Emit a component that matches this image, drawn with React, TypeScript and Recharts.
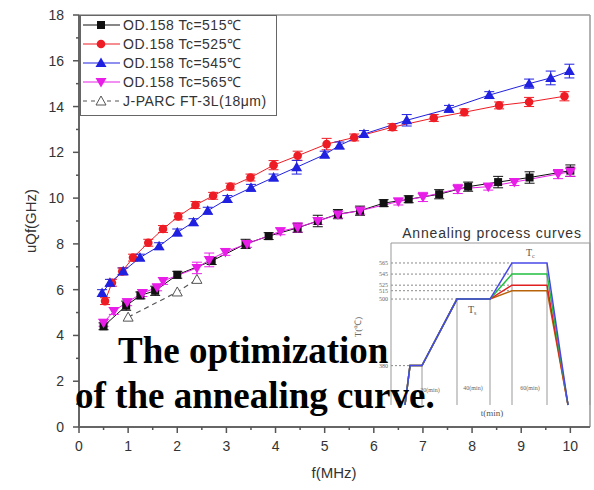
import React from 'react';
import { ComposedChart, LineChart, Line, XAxis, YAxis, ErrorBar, ReferenceLine } from 'recharts';

// main chart: uQf vs frequency
const freq515 = [0.5, 0.96, 1.25, 1.55, 2.0, 2.7, 3.39, 3.86, 4.45, 4.86, 5.27, 5.72, 6.2, 6.71, 7.33, 7.92, 8.53, 9.17, 10.0];
const uqf515 = [4.4, 5.3, 5.75, 5.95, 6.65, 7.25, 8.0, 8.34, 8.7, 9.0, 9.3, 9.45, 9.78, 9.95, 10.17, 10.5, 10.7, 10.9, 11.2];
const err515 = [0.15, 0.2, 0.15, 0.2, 0.15, 0.15, 0.2, 0.15, 0.2, 0.25, 0.2, 0.2, 0.15, 0.15, 0.2, 0.2, 0.25, 0.25, 0.25];

const freq525 = [0.53, 0.67, 0.88, 1.1, 1.41, 1.71, 2.02, 2.37, 2.73, 3.08, 3.49, 3.96, 4.45, 5.04, 5.6, 6.38, 7.22, 7.84, 8.55, 9.16, 9.88];
const uqf525 = [5.5, 6.3, 6.8, 7.4, 8.05, 8.65, 9.2, 9.7, 10.1, 10.5, 10.9, 11.44, 11.85, 12.36, 12.65, 13.1, 13.5, 13.75, 14.05, 14.2, 14.45];
const err525 = [0.15, 0.15, 0.15, 0.15, 0.15, 0.15, 0.15, 0.15, 0.15, 0.15, 0.15, 0.2, 0.2, 0.25, 0.15, 0.15, 0.15, 0.15, 0.15, 0.2, 0.2];

const freq545 = [0.47, 0.63, 0.9, 1.24, 1.63, 2.0, 2.33, 2.62, 3.02, 3.5, 3.96, 4.43, 5.0, 5.3, 5.8, 6.67, 7.53, 8.35, 9.16, 9.6, 9.98];
const uqf545 = [5.85, 6.3, 6.8, 7.4, 7.9, 8.5, 8.95, 9.45, 9.96, 10.45, 10.9, 11.35, 11.9, 12.3, 12.8, 13.4, 13.9, 14.5, 15.0, 15.25, 15.55];
const err545 = [0.15, 0.15, 0.15, 0.15, 0.15, 0.15, 0.15, 0.15, 0.15, 0.15, 0.15, 0.3, 0.15, 0.15, 0.15, 0.25, 0.15, 0.15, 0.2, 0.3, 0.3];

const freq565 = [0.5, 0.71, 0.98, 1.29, 1.59, 1.71, 2.4, 2.65, 2.98, 3.42, 4.1, 4.45, 4.86, 5.27, 5.72, 6.5, 7.0, 7.71, 8.33, 8.86, 9.75, 10.0];
const uqf565 = [4.55, 5.07, 5.45, 5.85, 6.1, 6.38, 6.95, 7.3, 7.65, 8.0, 8.55, 8.72, 9.0, 9.28, 9.45, 9.85, 10.05, 10.4, 10.5, 10.7, 11.05, 11.15];
const err565 = [0.15, 0.15, 0.15, 0.15, 0.15, 0.15, 0.25, 0.3, 0.15, 0.15, 0.15, 0.2, 0.15, 0.15, 0.15, 0.15, 0.2, 0.2, 0.15, 0.15, 0.2, 0.2];

const freqJparc = [1.0, 2.0, 2.4];
const uqfJparc = [4.8, 5.9, 6.45];

const xTicks = [0, 0.5, 1, 1.5, 2, 2.5, 3, 3.5, 4, 4.5, 5, 5.5, 6, 6.5, 7, 7.5, 8, 8.5, 9, 9.5, 10];
const yTicks = [0, 1, 2, 3, 4, 5, 6, 7, 8, 9, 10, 11, 12, 13, 14, 15, 16, 17, 18];

// inset: annealing process curves (time in arbitrary units, temperature in ℃)
const insetTime = [14, 19, 31, 66, 99, 121, 156, 177];
const insetBase = [309, 380, 380, 500, 500];
const insetTc = [515, 525, 545, 565];
const insetColors = ['#b8620a', '#e02020', '#20c040', '#4848e8'];
const insetTicks = [380, 500, 515, 525, 545, 565];

const rows = (fs: number[], vs: number[], es?: number[]) =>
  fs.map((f, i) => ({ f, v: vs[i], e: es ? es[i] : 0 }));

const data515 = rows(freq515, uqf515, err515);
const data525 = rows(freq525, uqf525, err525);
const data545 = rows(freq545, uqf545, err545);
const data565 = rows(freq565, uqf565, err565);
const dataJparc = rows(freqJparc, uqfJparc);

const insetSeries = insetTc.map((tc) =>
  insetTime.map((t, i) => ({ t, T: i < insetBase.length ? insetBase[i] : i === insetTime.length - 1 ? 309 : tc }))
);

const FONT = '"Liberation Sans", Arial, sans-serif';
const SERIF = '"Liberation Serif", "Times New Roman", serif';

const RED = '#ee1c24';
const BLUE = '#2020e0';
const MAG = '#e81ee8';
const BLK = '#111';

const Square = ({ cx, cy }: any) => <rect x={cx - 4} y={cy - 4} width={8} height={8} fill={BLK} />;
const Circle = ({ cx, cy }: any) => <circle cx={cx} cy={cy} r={4.3} fill={RED} />;
const TriUp = ({ cx, cy }: any) => <path d={`M${cx},${cy - 5.5}L${cx + 5.5},${cy + 4}L${cx - 5.5},${cy + 4}Z`} fill={BLUE} />;
const TriDown = ({ cx, cy }: any) => <path d={`M${cx},${cy + 5.5}L${cx + 5.5},${cy - 4}L${cx - 5.5},${cy - 4}Z`} fill={MAG} />;
const TriOpen = ({ cx, cy }: any) => (
  <path d={`M${cx},${cy - 5}L${cx + 5},${cy + 4}L${cx - 5},${cy + 4}Z`} fill="#fff" stroke="#555" strokeWidth={1} />
);

const XTick = ({ x, y, payload }: any) => {
  const v = payload.value;
  const major = Math.abs(v - Math.round(v)) < 1e-6;
  return (
    <g>
      <line x1={x} x2={x} y1={y} y2={y + (major ? 6 : 3)} stroke="#555" strokeWidth={1.5} />
      {major && (
        <text x={x} y={y + 24} textAnchor="middle" fontSize={14} fill="#333" fontFamily={FONT}>
          {v}
        </text>
      )}
    </g>
  );
};

const YTick = ({ x, y, payload }: any) => {
  const v = payload.value;
  const major = v % 2 === 0;
  return (
    <g>
      <line x1={x} x2={x - (major ? 6 : 3)} y1={y} y2={y} stroke="#555" strokeWidth={1.5} />
      {major && (
        <text x={x - 15} y={y + 5} textAnchor="end" fontSize={14} fill="#333" fontFamily={FONT}>
          {v}
        </text>
      )}
    </g>
  );
};

const legendItems = [
  { label: 'OD.158 Tc=515℃', color: BLK, Dot: Square, dash: undefined },
  { label: 'OD.158 Tc=525℃', color: RED, Dot: Circle, dash: undefined },
  { label: 'OD.158 Tc=545℃', color: BLUE, Dot: TriUp, dash: undefined },
  { label: 'OD.158 Tc=565℃', color: MAG, Dot: TriDown, dash: undefined },
  { label: 'J-PARC FT-3L(18μm)', color: '#555', Dot: TriOpen, dash: '4 4' },
];

const LegendBox = () => (
  <svg width={197} height={101} style={{ position: 'absolute', left: 80, top: 15 }}>
    <rect x={0.5} y={0.5} width={196} height={100} fill="#fff" stroke="#666" />
    {legendItems.map((it, i) => {
      const y = 10 + i * 19;
      return (
        <g key={it.label}>
          <line x1={3} x2={40} y1={y} y2={y} stroke={it.color} strokeWidth={1.2} strokeDasharray={it.dash} />
          <it.Dot cx={21} cy={y} />
          <text x={43} y={y + 5} fontSize={14} letterSpacing={0.5} fill="#333" fontFamily={FONT}>
            {it.label}
          </text>
        </g>
      );
    })}
  </svg>
);

const MainChart = () => (
  <ComposedChart width={594} height={490} margin={{ top: 15, right: 4, bottom: 23, left: 29 }}>
    <XAxis
      type="number"
      dataKey="f"
      domain={[0, 10.4]}
      ticks={xTicks}
      interval={0}
      tick={<XTick />}
      tickLine={false}
      tickSize={0}
      tickMargin={0}
      height={40}
      axisLine={{ stroke: '#666', strokeWidth: 2 }}
      allowDataOverflow
    />
    <YAxis
      type="number"
      domain={[0, 18]}
      ticks={yTicks}
      interval={0}
      tick={<YTick />}
      tickLine={false}
      tickSize={0}
      tickMargin={0}
      width={50}
      axisLine={{ stroke: '#666', strokeWidth: 2 }}
    />
    <ReferenceLine y={18} stroke="#999" strokeWidth={1.5} />
    <ReferenceLine x={10.4} stroke="#999" strokeWidth={1.5} />
    <Line data={dataJparc} dataKey="v" stroke="#555" strokeWidth={1.2} strokeDasharray="5 4" dot={<TriOpen />} isAnimationActive={false} />
    <Line data={data515} dataKey="v" stroke={BLK} strokeWidth={1} dot={<Square />} isAnimationActive={false}>
      <ErrorBar dataKey="e" width={5} stroke={BLK} strokeWidth={1} direction="y" />
    </Line>
    <Line data={data525} dataKey="v" stroke={RED} strokeWidth={1} dot={<Circle />} isAnimationActive={false}>
      <ErrorBar dataKey="e" width={5} stroke={RED} strokeWidth={1} direction="y" />
    </Line>
    <Line data={data545} dataKey="v" stroke={BLUE} strokeWidth={1} dot={<TriUp />} isAnimationActive={false}>
      <ErrorBar dataKey="e" width={5} stroke={BLUE} strokeWidth={1} direction="y" />
    </Line>
    <Line data={data565} dataKey="v" stroke={MAG} strokeWidth={1} dot={<TriDown />} isAnimationActive={false}>
      <ErrorBar dataKey="e" width={5} stroke={MAG} strokeWidth={1} direction="y" />
    </Line>
  </ComposedChart>
);

const InsetChart = () => (
  <LineChart width={244} height={185} margin={{ top: 5, right: 4, bottom: 18, left: 21 }}>
    <XAxis type="number" dataKey="t" domain={[0, 199]} tick={false} tickLine={false} height={0} axisLine={{ stroke: '#999' }} />
    <YAxis
      type="number"
      domain={[309, 601]}
      ticks={insetTicks}
      interval={0}
      tickSize={0}
      tickMargin={3}
      tickLine={false}
      width={20}
      tick={{ fontSize: 6, fill: '#666', fontFamily: SERIF }}
      axisLine={{ stroke: '#999' }}
    />
    <ReferenceLine y={601} stroke="#999" />
    <ReferenceLine x={199} stroke="#999" />
    {insetTc.map((tc) => (
      <ReferenceLine key={tc} segment={[{ x: 0, y: tc }, { x: 121, y: tc }]} stroke="#888" strokeDasharray="2 2" />
    ))}
    <ReferenceLine segment={[{ x: 0, y: 500 }, { x: 66, y: 500 }]} stroke="#888" strokeDasharray="2 2" />
    <ReferenceLine segment={[{ x: 0, y: 380 }, { x: 19, y: 380 }]} stroke="#888" strokeDasharray="2 2" />
    <ReferenceLine segment={[{ x: 31, y: 309 }, { x: 31, y: 380 }]} stroke="#999" />
    <ReferenceLine segment={[{ x: 66, y: 309 }, { x: 66, y: 500 }]} stroke="#999" />
    <ReferenceLine segment={[{ x: 99, y: 309 }, { x: 99, y: 500 }]} stroke="#999" />
    <ReferenceLine segment={[{ x: 121, y: 309 }, { x: 121, y: 565 }]} stroke="#999" />
    <ReferenceLine segment={[{ x: 156, y: 309 }, { x: 156, y: 565 }]} stroke="#999" />
    {insetSeries.map((s, i) => (
      <Line key={i} data={s} dataKey="T" stroke={insetColors[i]} strokeWidth={1.5} dot={false} isAnimationActive={false} />
    ))}
  </LineChart>
);

export default function App() {
  return (
    <div style={{ position: 'absolute', left: 0, top: 0, width: 594, height: 490, background: '#fff' }}>
      <div style={{ position: 'absolute', left: 0, top: 0 }}>
        <MainChart />
      </div>
      <LegendBox />
      <div style={{ position: 'absolute', left: 350, top: 238, background: 'transparent' }}>
        <InsetChart />
      </div>
      <svg width={594} height={490} style={{ position: 'absolute', left: 0, top: 0, pointerEvents: 'none' }}>
        <text x={30} y={221} transform="rotate(-90 30 221)" textAnchor="middle" dominantBaseline="central" fontSize={15} fill="#333" fontFamily={FONT}>
          uQf(GHz)
        </text>
        <text x={334} y={478} textAnchor="middle" fontSize={15} fill="#333" fontFamily={FONT}>
          f(MHz)
        </text>
        <text x={492} y={238} textAnchor="middle" fontSize={14} letterSpacing={0.8} fill="#333" fontFamily={FONT}>
          Annealing process curves
        </text>
        <text x={492} y={416} textAnchor="middle" fontSize={9} fill="#555" fontFamily={SERIF}>
          t(min)
        </text>
        <text x={358} y={327} transform="rotate(-90 358 327)" textAnchor="middle" dominantBaseline="central" fontSize={9} fill="#666" fontFamily={SERIF}>
          T(℃)
        </text>
        <text x={526} y={256} fontSize={10} fill="#555" fontFamily={SERIF}>
          T<tspan fontSize={6} dy={2}>c</tspan>
        </text>
        <text x={468} y={313} fontSize={10} fill="#555" fontFamily={SERIF}>
          T<tspan fontSize={6} dy={2}>s</tspan>
        </text>
        <text x={430} y={392} textAnchor="middle" fontSize={6} fill="#666" fontFamily={SERIF}>20(min)</text>
        <text x={473} y={390} textAnchor="middle" fontSize={6} fill="#666" fontFamily={SERIF}>40(min)</text>
        <text x={530} y={390} textAnchor="middle" fontSize={6} fill="#666" fontFamily={SERIF}>60(min)</text>
        <text x={118} y={363} fontSize={37} fontWeight="bold" fill="#000" fontFamily={SERIF}>
          The optimization
        </text>
        <text x={75} y={408} fontSize={37} fontWeight="bold" fill="#000" fontFamily={SERIF}>
          of the annealing curve.
        </text>
      </svg>
    </div>
  );
}
